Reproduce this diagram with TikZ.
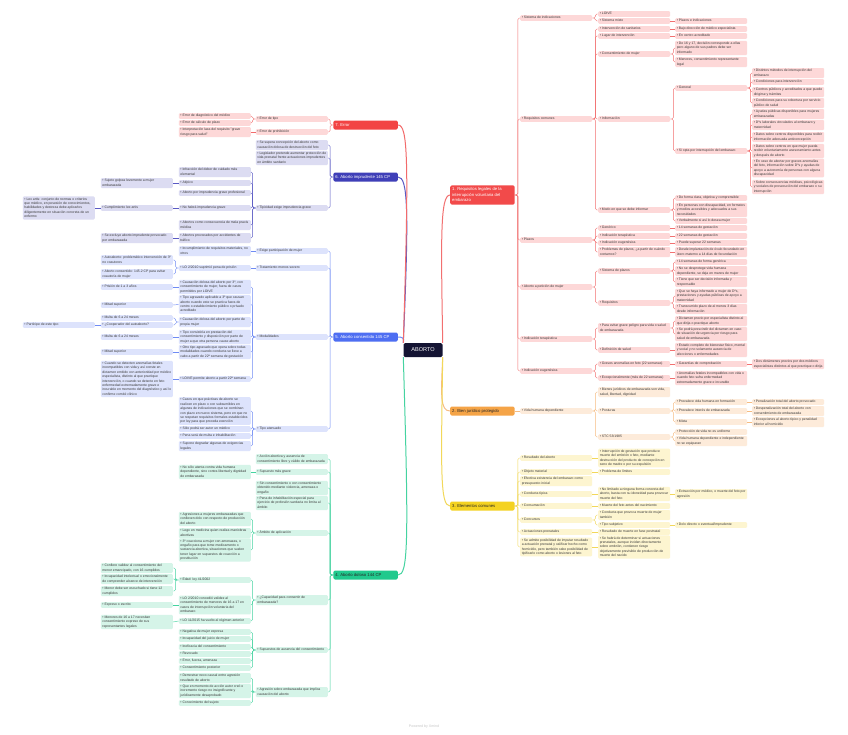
\documentclass[tikz,border=0pt]{standalone}
\usepackage{fontspec}
\setmainfont{Liberation Sans}

\definecolor{centre}{HTML}{141433}
\definecolor{rqmain}{HTML}{F24A4A}
\definecolor{rqsoft}{HTML}{FDD8D8}
\definecolor{rqline}{HTML}{F27070}
\definecolor{bjmain}{HTML}{F5A447}
\definecolor{bjsoft}{HTML}{FDEBDA}
\definecolor{bjline}{HTML}{F6BC82}
\definecolor{ecmain}{HTML}{F4D221}
\definecolor{ecsoft}{HTML}{FDF5D0}
\definecolor{ecline}{HTML}{F2D85A}
\definecolor{admain}{HTML}{21C98D}
\definecolor{adsoft}{HTML}{D5F4E8}
\definecolor{adline}{HTML}{45D3A0}
\definecolor{acmain}{HTML}{4E6EF2}
\definecolor{acsoft}{HTML}{DDE3FC}
\definecolor{acline}{HTML}{6F8BF4}
\definecolor{aimain}{HTML}{3F3FB8}
\definecolor{aisoft}{HTML}{DCDCF2}
\definecolor{ailine}{HTML}{5A5AC4}
\definecolor{ermain}{HTML}{F24444}
\definecolor{ersoft}{HTML}{FDD8D8}
\definecolor{erline}{HTML}{F26B6B}

\tikzset{
  sub/.style={fill=#1, rounded corners=1.2pt, inner xsep=1.6pt, inner ysep=0.6pt,
    text width=68.8pt, align=flush left, text=black!78,
    font=\fontsize{3.4}{4.4}\selectfont,
    execute at begin node=\strut, execute at end node=\strut},
  rbox/.style={sub=#1, anchor=west},
  lbox/.style={sub=#1, anchor=east},
  topic/.style={fill=#1, rounded corners=1.5pt, inner xsep=2pt, inner ysep=1.9pt,
    text width=60.5pt, align=flush left, font=\fontsize{4.2}{5.2}\selectfont,
    execute at begin node=\strut, execute at end node=\strut},
  link/.style={draw=#1, line width=0.45pt, rounded corners=1.5pt},
  trunk/.style={draw=#1, line width=1pt},
}

\begin{document}
\begin{tikzpicture}[x=1pt,y=-1pt]
\fill[white] (0,0) rectangle (848,734);
\useasboundingbox (0,0) rectangle (848,734);

% centre
\node[fill=centre, text=white, rounded corners=1.5pt, minimum width=39pt, minimum height=14pt,
  font=\fontsize{5.6}{6}\selectfont] (aborto) at (423,350) {ABORTO};

% main topics
\node[topic=rqmain, text=white, anchor=west] (rq) at (450,195) {1. Requisitos legales de la interrupción voluntaria del embarazo};
\node[topic=bjmain, text=black!85, anchor=west] (bj) at (450,411) {2. Bien jurídico protegido};
\node[topic=ecmain, text=black!85, anchor=west] (ec) at (450,506) {3. Elementos comunes};
\node[topic=admain, text=black!85, anchor=east] (ad) at (398,575) {4. Aborto doloso 144 CP};
\node[topic=acmain, text=white, anchor=east] (ac) at (398,337) {5. Aborto consentido 145 CP};
\node[topic=aimain, text=white, anchor=east] (ai) at (398,177) {6. Aborto imprudente 145 CP};
\node[topic=ermain, text=white, anchor=east] (er) at (398,125) {7. Error};

\draw[trunk=rqline] (aborto.north east) .. controls (441,240) and (440,195) .. (rq.west);
\draw[trunk=bjline] (aborto.south east) .. controls (441,395) and (440,411) .. (bj.west);
\draw[trunk=ecline] (aborto.south east) .. controls (441,470) and (440,506) .. (ec.west);
\draw[trunk=adline] (aborto.south west) .. controls (409,545) and (408,575) .. (ad.east);
\draw[trunk=acline] (aborto.north west) .. controls (405,338) and (402,337) .. (ac.east);
\draw[trunk=ailine] (aborto.north west) .. controls (409,210) and (408,177) .. (ai.east);
\draw[trunk=erline] (aborto.north west) .. controls (409,160) and (408,125) .. (er.east);

% 1. requisitos legales
\node[rbox=rqsoft] (rqa) at (520,18) {• Sistema de indicaciones};
\node[rbox=rqsoft] (rqb) at (520,119) {• Requisitos comunes};
\node[rbox=rqsoft] (rqc) at (520,240) {• Plazos};
\node[rbox=rqsoft] (rqd) at (520,287) {• Aborto a petición de mujer};
\node[rbox=rqsoft] (rqe) at (520,339) {• Indicación terapéutica};
\node[rbox=rqsoft] (rqf) at (520,371) {• Indicación eugenésica};
\foreach \n in {rqa,rqb,rqc,rqd,rqe,rqf} \draw[link=rqline] (rq.east) -- ++(3,0) |- (\n.west);

\node[rbox=rqsoft] (rqa1) at (598,14) {• LOIVE};
\node[rbox=rqsoft] (rqa2) at (598,21) {• Sistema mixto};
\node[rbox=rqsoft] (rqa2a) at (675,21) {• Plazos e indicaciones};
\foreach \n in {rqa1,rqa2} \draw[link=rqline] (rqa.east) -- ++(3,0) |- (\n.west);
\draw[link=rqline] (rqa2) -- (rqa2a);

\node[rbox=rqsoft] (rqb1) at (598,29) {• Intervención de sanitarios};
\node[rbox=rqsoft] (rqb1a) at (675,29) {• Bajo dirección de médico especialista};
\node[rbox=rqsoft] (rqb2) at (598,36) {• Lugar de intervención};
\node[rbox=rqsoft] (rqb2a) at (675,36) {• En centro acreditado};
\node[rbox=rqsoft] (rqb3) at (598,54) {• Consentimiento de mujer};
\node[rbox=rqsoft] (rqb3a) at (675,48) {• De 16 y 17, decisión corresponde a ellas pero alguno de sus padres debe ser informado};
\node[rbox=rqsoft] (rqb3b) at (675,62) {• Menores, consentimiento representante legal};
\node[rbox=rqsoft] (rqb4) at (598,119) {• Información};
\node[rbox=rqsoft] (rqb4a) at (675,88) {• General};
\node[rbox=rqsoft] (rqb4a1) at (752,73) {• Distintos métodos de interrupción del embarazo};
\node[rbox=rqsoft] (rqb4a2) at (752,82) {• Condiciones para intervención};
\node[rbox=rqsoft] (rqb4a3) at (752,92) {• Centros públicos y acreditados a que puede dirigirse y trámites};
\node[rbox=rqsoft] (rqb4a4) at (752,103) {• Condiciones para su cobertura por servicio público de salud};
\node[rbox=rqsoft] (rqb4b) at (675,151) {• Si opta por interrupción del embarazo};
\node[rbox=rqsoft] (rqb4b1) at (752,114) {• Ayudas públicas disponibles para mujeres embarazadas};
\node[rbox=rqsoft] (rqb4b2) at (752,125) {• Dºs laborales vinculados al embarazo y maternidad};
\node[rbox=rqsoft] (rqb4b3) at (752,137) {• Datos sobre centros disponibles para recibir información adecuada anticoncepción};
\node[rbox=rqsoft] (rqb4b4) at (752,151) {• Datos sobre centros en que mujer pueda recibir voluntariamente asesoramiento antes y después de aborto};
\node[rbox=rqsoft] (rqb4b5) at (752,168) {• En caso de abortar por graves anomalías del feto, información sobre Dºs y ayudas de apoyo a autonomía de personas con alguna discapacidad};
\node[rbox=rqsoft] (rqb4b6) at (752,187) {• Sobre consecuencias médicas, psicológicas y sociales de prosecución del embarazo o su interrupción};
\node[rbox=rqsoft] (rqb5) at (598,210) {• Modo en que se debe informar};
\node[rbox=rqsoft] (rqb5a) at (675,198) {• De forma clara, objetiva y comprensible};
\node[rbox=rqsoft] (rqb5b) at (675,210) {• En personas con discapacidad, en formatos y medios accesibles y adecuados a sus necesidades};
\node[rbox=rqsoft] (rqb5c) at (675,221) {• Verbalmente si así lo desea mujer};
\foreach \n in {rqb1,rqb2,rqb3,rqb4,rqb5} \draw[link=rqline] (rqb.east) -- ++(3,0) |- (\n.west);
\draw[link=rqline] (rqb1) -- (rqb1a);
\draw[link=rqline] (rqb2) -- (rqb2a);
\foreach \n in {rqb3a,rqb3b} \draw[link=rqline] (rqb3.east) -- ++(3,0) |- (\n.west);
\foreach \n in {rqb4a,rqb4b} \draw[link=rqline] (rqb4.east) -- ++(3,0) |- (\n.west);
\foreach \n in {rqb4a1,rqb4a2,rqb4a3,rqb4a4} \draw[link=rqline] (rqb4a.east) -- ++(3,0) |- (\n.west);
\foreach \n in {rqb4b1,rqb4b2,rqb4b3,rqb4b4,rqb4b5,rqb4b6} \draw[link=rqline] (rqb4b.east) -- ++(3,0) |- (\n.west);
\foreach \n in {rqb5a,rqb5b,rqb5c} \draw[link=rqline] (rqb5.east) -- ++(3,0) |- (\n.west);

\node[rbox=rqsoft] (rqc1) at (598,228) {• Genérico};
\node[rbox=rqsoft] (rqc1a) at (675,228) {• 14 semanas de gestación};
\node[rbox=rqsoft] (rqc2) at (598,236) {• Indicación terapéutica};
\node[rbox=rqsoft] (rqc2a) at (675,236) {• 22 semanas de gestación};
\node[rbox=rqsoft] (rqc3) at (598,243) {• Indicación eugenésica};
\node[rbox=rqsoft] (rqc3a) at (675,243) {• Puede superar 22 semanas};
\node[rbox=rqsoft] (rqc4) at (598,252) {• Problemas de plazos, ¿a partir de cuándo contamos?};
\node[rbox=rqsoft] (rqc4a) at (675,252) {• Desde implantación de óvulo fecundado en útero materno a 14 días de fecundación};
\foreach \n in {rqc1,rqc2,rqc3,rqc4} \draw[link=rqline] (rqc.east) -- ++(3,0) |- (\n.west);
\foreach \n in {1,2,3,4} \draw[link=rqline] (rqc\n) -- (rqc\n a);

\node[rbox=rqsoft] (rqd1) at (598,271) {• Sistema de plazos};
\node[rbox=rqsoft] (rqd1a) at (675,262) {• 14 semanas de forma genérica};
\node[rbox=rqsoft] (rqd1b) at (675,271) {• No se desprotege vida humana dependiente, se deja en manos de mujer};
\node[rbox=rqsoft] (rqd1c) at (675,282) {• Tiene que ser decisión informada y responsable};
\node[rbox=rqsoft] (rqd2) at (598,303) {• Requisitos};
\node[rbox=rqsoft] (rqd2a) at (675,296) {• Que se haya informado a mujer de Dºs, prestaciones y ayudas públicas de apoyo a maternidad};
\node[rbox=rqsoft] (rqd2b) at (675,309) {• Transcurrido plazo de al menos 3 días desde información};
\foreach \n in {rqd1,rqd2} \draw[link=rqline] (rqd.east) -- ++(3,0) |- (\n.west);
\foreach \n in {rqd1a,rqd1b,rqd1c} \draw[link=rqline] (rqd1.east) -- ++(3,0) |- (\n.west);
\foreach \n in {rqd2a,rqd2b} \draw[link=rqline] (rqd2.east) -- ++(3,0) |- (\n.west);

\node[rbox=rqsoft] (rqe1) at (598,328) {• Para evitar grave peligro para vida o salud de embarazada};
\node[rbox=rqsoft] (rqe1a) at (675,321) {• Dictamen previo por especialista distinto al que dirija o practique aborto};
\node[rbox=rqsoft] (rqe1b) at (675,334) {• Se podrá prescindir del dictamen en caso de situación de urgencia por riesgo para salud de embarazada};
\node[rbox=rqsoft] (rqe2) at (598,350) {• Definición de salud};
\node[rbox=rqsoft] (rqe2a) at (675,350) {• Estado completo de bienestar físico, mental y social y no solamente ausencia de afecciones o enfermedades};
\foreach \n in {rqe1,rqe2} \draw[link=rqline] (rqe.east) -- ++(3,0) |- (\n.west);
\foreach \n in {rqe1a,rqe1b} \draw[link=rqline] (rqe1.east) -- ++(3,0) |- (\n.west);
\draw[link=rqline] (rqe2) -- (rqe2a);

\node[rbox=rqsoft] (rqf1) at (598,364) {• Graves anomalías en feto (22 semanas)};
\node[rbox=rqsoft] (rqf1a) at (675,364) {• Garantías de comprobación};
\node[rbox=rqsoft] (rqf1b) at (752,364) {• Dos dictámenes previos por dos médicos especialistas distintos al que practique o dirija};
\node[rbox=rqsoft] (rqf2) at (598,378) {• Excepcionalmente (más de 22 semanas)};
\node[rbox=rqsoft] (rqf2a) at (675,378) {• Anomalías fetales incompatibles con vida o cuando feto sufra enfermedad extremadamente grave e incurable};
\foreach \n in {rqf1,rqf2} \draw[link=rqline] (rqf.east) -- ++(3,0) |- (\n.west);
\draw[link=rqline] (rqf1) -- (rqf1a);
\draw[link=rqline] (rqf1a) -- (rqf1b);
\draw[link=rqline] (rqf2) -- (rqf2a);

% 2. bien juridico
\node[rbox=bjsoft] (bj1) at (520,411) {• Vida humana dependiente};
\node[rbox=bjsoft] (bj1a) at (598,392) {• Bienes jurídicos de embarazada son vida, salud, libertad, dignidad};
\node[rbox=bjsoft] (bj1b) at (598,411) {• Posturas};
\node[rbox=bjsoft] (bj1b1) at (675,402) {• Prevalece vida humana en formación};
\node[rbox=bjsoft] (bj1b1a) at (752,402) {• Penalización total del aborto provocado};
\node[rbox=bjsoft] (bj1b2) at (675,411) {• Prevalece interés de embarazada};
\node[rbox=bjsoft] (bj1b2a) at (752,411) {• Despenalización total del aborto con consentimiento de embarazada};
\node[rbox=bjsoft] (bj1b3) at (675,422) {• Mixta};
\node[rbox=bjsoft] (bj1b3a) at (752,422) {• Excepciones al aborto típico y penalidad inferior al homicidio};
\node[rbox=bjsoft] (bj1c) at (598,437) {• STC 53/1985};
\node[rbox=bjsoft] (bj1c1) at (675,432) {• Protección de vida no es uniforme};
\node[rbox=bjsoft] (bj1c2) at (675,441) {• Vida humana dependiente e independiente no se equiparan};
\draw[link=bjline] (bj) -- (bj1);
\foreach \n in {bj1a,bj1b,bj1c} \draw[link=bjline] (bj1.east) -- ++(3,0) |- (\n.west);
\foreach \n in {bj1b1,bj1b2,bj1b3} \draw[link=bjline] (bj1b.east) -- ++(3,0) |- (\n.west);
\foreach \n in {1,2,3} \draw[link=bjline] (bj1b\n) -- (bj1b\n a);
\foreach \n in {bj1c1,bj1c2} \draw[link=bjline] (bj1c.east) -- ++(3,0) |- (\n.west);

% 3. elementos comunes
\node[rbox=ecsoft] (ec1) at (520,458) {• Resultado del aborto};
\node[rbox=ecsoft] (ec1a) at (598,458) {• Interrupción de gestación que produce muerte del embrión o feto, mediante destrucción del producto de concepción en seno de madre o por su expulsión};
\node[rbox=ecsoft] (ec2) at (520,472) {• Objeto material};
\node[rbox=ecsoft] (ec2a) at (598,472) {• Problema de límites};
\node[rbox=ecsoft] (ec3) at (520,481) {• Efectiva existencia del embarazo como presupuesto inicial};
\node[rbox=ecsoft] (ec4) at (520,494) {• Conducta típica};
\node[rbox=ecsoft] (ec4a) at (598,494) {• No limitado a ninguna forma concreta del aborto, basta con su idoneidad para provocar muerte del feto};
\node[rbox=ecsoft] (ec4b) at (675,494) {• Extracción por médico, o muerte del feto por agresión};
\node[rbox=ecsoft] (ec5) at (520,506) {• Consumación};
\node[rbox=ecsoft] (ec5a) at (598,506) {• Muerte del feto antes del nacimiento};
\node[rbox=ecsoft] (ec6) at (520,520) {• Concursos};
\node[rbox=ecsoft] (ec6a) at (598,515) {• Conducta que provoca muerte de mujer también};
\node[rbox=ecsoft] (ec6b) at (598,525) {• Tipo subjetivo};
\node[rbox=ecsoft] (ec6c) at (675,525) {• Dolo directo o eventual/imprudente};
\node[rbox=ecsoft] (ec7) at (520,532) {• Actuaciones prenatales};
\node[rbox=ecsoft] (ec7a) at (598,532) {• Resultado de muerte en fase postnatal};
\node[rbox=ecsoft] (ec8) at (520,547) {• Se admite posibilidad de imputar resultado a actuación prenatal y calificar hecho como homicidio, pero también cabe posibilidad de tipificarlo como aborto o lesiones al feto};
\node[rbox=ecsoft] (ec8a) at (598,547) {• Se habrá de determinar si actuaciones prenatales, aunque inciden directamente sobre embrión, contienen riesgo objetivamente previsible de producción de muerte del nacido};
\foreach \n in {ec1,ec2,ec3,ec4,ec5,ec6,ec7,ec8} \draw[link=ecline] (ec.east) -- ++(3,0) |- (\n.west);
\foreach \n in {1,2,4,5,7,8} \draw[link=ecline] (ec\n) -- (ec\n a);
\draw[link=ecline] (ec4a) -- (ec4b);
\foreach \n in {ec6a,ec6b} \draw[link=ecline] (ec6.east) -- ++(3,0) |- (\n.west);
\draw[link=ecline] (ec6b) -- (ec6c);

% 7. error
\node[lbox=ersoft] (er1) at (328,119) {• Error de tipo};
\node[lbox=ersoft] (er1a) at (251,116) {• Error de diagnóstico del médico};
\node[lbox=ersoft] (er1b) at (251,123) {• Error de cálculo de plazo};
\node[lbox=ersoft] (er2) at (328,132) {• Error de prohibición};
\node[lbox=ersoft] (er2a) at (251,132) {• Interpretación laxa del requisito "grave riesgo para salud"};
\foreach \n in {er1,er2} \draw[link=erline] (er.west) -- ++(-3,0) |- (\n.east);
\foreach \n in {er1a,er1b} \draw[link=erline] (er1.west) -- ++(-3,0) |- (\n.east);
\draw[link=erline] (er2) -- (er2a);

% 6. aborto imprudente
\node[lbox=aisoft] (ai1) at (328,145) {• Se supera concepción del aborto como causación dolosa de destrucción del feto};
\node[lbox=aisoft] (ai2) at (328,158) {• Legislador pretende aumentar protección de vida prenatal frente actuaciones imprudentes en ámbito sanitario};
\node[lbox=aisoft] (ai3) at (328,208) {• Tipicidad exige imprudencia grave};
\node[lbox=aisoft] (ai3a) at (251,172) {• Infracción del deber de cuidado más elemental};
\node[lbox=aisoft] (ai3b) at (251,183) {• Atípico};
\node[lbox=aisoft] (ai3b1) at (173,183) {• Sujeto golpea levemente a mujer embarazada};
\node[lbox=aisoft] (ai3c) at (251,193) {• Aborto por imprudencia grave profesional};
\node[lbox=aisoft] (ai3d) at (251,208) {• No habrá imprudencia grave};
\node[lbox=aisoft] (ai3d1) at (173,208) {• Cumplimiento lex artis};
\node[lbox=aisoft] (ai3d2) at (95,208) {• Lex artis: conjunto de normas o criterios que médico, en posesión de conocimientos, habilidades y destreza debe aplicarlos diligentemente en situación concreta de un enfermo};
\node[lbox=aisoft] (ai3e) at (251,225) {• Abortos como consecuencia de mala praxis médica};
\node[lbox=aisoft] (ai3f) at (251,238) {• Abortos provocados por accidentes de tráfico};
\node[lbox=aisoft] (ai3f1) at (173,238) {• Se excluye aborto imprudente provocado por embarazada};
\foreach \n in {ai1,ai2,ai3} \draw[link=ailine] (ai.west) -- ++(-3,0) |- (\n.east);
\foreach \n in {ai3a,ai3b,ai3c,ai3d,ai3e,ai3f} \draw[link=ailine] (ai3.west) -- ++(-3,0) |- (\n.east);
\draw[link=ailine] (ai3b) -- (ai3b1);
\draw[link=ailine] (ai3d) -- (ai3d1);
\draw[link=ailine] (ai3d1) -- (ai3d2);
\draw[link=ailine] (ai3f) -- (ai3f1);

% 5. aborto consentido
\node[lbox=acsoft] (ac1) at (328,251) {• Exige participación de mujer};
\node[lbox=acsoft] (ac1a) at (251,251) {• Incumplimiento de requisitos materiales, no otros};
\node[lbox=acsoft] (ac2) at (328,268) {• Tratamiento menos severo};
\node[lbox=acsoft] (ac2a) at (251,268) {• LO 2/2010 suprimió pena de prisión};
\node[lbox=acsoft] (ac2a1) at (173,260) {• Autoaborto: problemático intervención de 3º no coautores};
\node[lbox=acsoft] (ac2a2) at (173,274) {• Aborto consentido: 145.2 CP para evitar coautoría de mujer};
\node[lbox=acsoft] (ac3) at (328,337) {• Modalidades};
\node[lbox=acsoft] (ac3a) at (251,287) {• Causación dolosa del aborto por 3º, con consentimiento de mujer, fuera de casos permitidos por LOIVE};
\node[lbox=acsoft] (ac3a1) at (173,287) {• Prisión de 1 a 3 años};
\node[lbox=acsoft] (ac3b) at (251,304.5) {• Tipo agravado aplicable a 3º que causan aborto cuando este se practica fuera de centro o establecimiento público o privado acreditado};
\node[lbox=acsoft] (ac3b1) at (173,305) {• Mitad superior};
\node[lbox=acsoft] (ac3c) at (251,322) {• Causación dolosa del aborto por parte de propia mujer};
\node[lbox=acsoft] (ac3c1) at (173,318) {• Multa de 6 a 24 meses};
\node[lbox=acsoft] (ac3c2) at (173,325) {• ¿Cooperador del autoaborto?};
\node[lbox=acsoft] (ac3c3) at (95,325) {• Partícipe de este tipo};
\node[lbox=acsoft] (ac3d) at (251,337) {• Tipo consistiría en prestación del consentimiento y disposición por parte de mujer a que otra persona cause aborto};
\node[lbox=acsoft] (ac3d1) at (173,337) {• Multa de 6 a 24 meses};
\node[lbox=acsoft] (ac3e) at (251,352) {• Otro tipo agravado que opera sobre todas modalidades cuando conducta se lleve a cabo a partir de 22ª semana de gestación};
\node[lbox=acsoft] (ac3e1) at (173,352) {• Mitad superior};
\node[lbox=acsoft] (ac3f) at (251,379) {• LOIVE permite aborto a partir 22ª semana};
\node[lbox=acsoft] (ac3f1) at (173,379) {• Cuando se detecten anomalías fetales incompatibles con vida y así conste en dictamen emitido con anterioridad por médico especialista, distinto al que practique intervención, o cuando se detecte en feto enfermedad extremadamente grave e incurable en momento del diagnóstico y así lo confirme comité clínico};
\node[lbox=acsoft] (ac4) at (328,429) {• Tipo atenuado};
\node[lbox=acsoft] (ac4a) at (251,411) {• Casos en que prácticas de aborto se realicen en plazo o con subsumibles en algunas de indicaciones que se combinan con plazo en nuevo sistema, pero en que no se respetan requisitos formales establecidos por ley para que proceda exención};
\node[lbox=acsoft] (ac4b) at (251,429) {• Sólo podrá ser autor un médico};
\node[lbox=acsoft] (ac4c) at (251,436) {• Pena será de multa e inhabilitación};
\node[lbox=acsoft] (ac4d) at (251,446) {• Supone degradar algunas de exigencias legales};
\foreach \n in {ac1,ac2,ac3,ac4} \draw[link=acline] (ac.west) -- ++(-3,0) |- (\n.east);
\draw[link=acline] (ac1) -- (ac1a);
\draw[link=acline] (ac2) -- (ac2a);
\foreach \n in {ac2a1,ac2a2} \draw[link=acline] (ac2a.west) -- ++(-3,0) |- (\n.east);
\foreach \n in {ac3a,ac3b,ac3c,ac3d,ac3e,ac3f} \draw[link=acline] (ac3.west) -- ++(-3,0) |- (\n.east);
\draw[link=acline] (ac3a) -- (ac3a1);
\draw[link=acline] (ac3b.west) -- (ac3b1.east);
\foreach \n in {ac3c1,ac3c2} \draw[link=acline] (ac3c.west) -- ++(-3,0) |- (\n.east);
\draw[link=acline] (ac3c2) -- (ac3c3);
\draw[link=acline] (ac3d) -- (ac3d1);
\draw[link=acline] (ac3e) -- (ac3e1);
\draw[link=acline] (ac3f) -- (ac3f1);
\foreach \n in {ac4a,ac4b,ac4c,ac4d} \draw[link=acline] (ac4.west) -- ++(-3,0) |- (\n.east);

% 4. aborto doloso
\node[lbox=adsoft] (ad1) at (328,459) {• Acción abortiva y ausencia de consentimiento libre y válido de embarazada};
\node[lbox=adsoft] (ad2) at (328,472) {• Supuesto más grave};
\node[lbox=adsoft] (ad2a) at (251,472) {• No sólo atenta contra vida humana dependiente, sino contra libertad y dignidad de embarazada};
\node[lbox=adsoft] (ad3) at (328,488) {• Sin consentimiento o con consentimiento obtenido mediante violencia, amenaza o engaño};
\node[lbox=adsoft] (ad4) at (328,503) {• Pena de inhabilitación especial para ejercicio de profesión sanitaria no limita al ámbito};
\node[lbox=adsoft] (ad5) at (328,533) {• Ámbito de aplicación};
\node[lbox=adsoft] (ad5a) at (251,519) {• Agresiones a mujeres embarazadas que conlleven dolo con respecto de producción del aborto};
\node[lbox=adsoft] (ad5b) at (251,533) {• Lego en medicina quien realiza maniobras abortivas};
\node[lbox=adsoft] (ad5c) at (251,550) {• 3º coacciona a mujer con amenazas, o engaño para que tome medicamento o sustancia abortiva, situaciones que suelen tener lugar en supuestos de coacción a prostitución};
\node[lbox=adsoft] (ad6) at (328,600) {• ¿Capacidad para consentir de embarazada?};
\node[lbox=adsoft] (ad6a) at (251,580) {• Edad: ley 41/2002};
\node[lbox=adsoft] (ad6a1) at (173,568) {• Confiere validez al consentimiento del menor emancipado, con 16 cumplidos};
\node[lbox=adsoft] (ad6a2) at (173,579) {• Incapacidad intelectual o emocionalmente de comprender alcance de intervención};
\node[lbox=adsoft] (ad6a3) at (173,591) {• Menor debe ser escuchado si tiene 12 cumplidos};
\node[lbox=adsoft] (ad6b) at (251,605) {• LO 2/2010 concedió validez al consentimiento de menores de 16 a 17 en casos de interrupción voluntaria del embarazo};
\node[lbox=adsoft] (ad6b1) at (173,605) {• Expreso o escrito};
\node[lbox=adsoft] (ad6c) at (251,621) {• LO 11/2015 ha vuelto al régimen anterior};
\node[lbox=adsoft] (ad6c1) at (173,622) {• Menores de 16 a 17 necesitan consentimiento expreso de sus representantes legales};
\node[lbox=adsoft] (ad7) at (328,650) {• Supuestos de ausencia del consentimiento};
\node[lbox=adsoft] (ad7a) at (251,632) {• Negativa de mujer expresa};
\node[lbox=adsoft] (ad7b) at (251,639) {• Incapacidad del juicio de mujer};
\node[lbox=adsoft] (ad7c) at (251,647) {• Ineficacia del consentimiento};
\node[lbox=adsoft] (ad7d) at (251,654) {• Revocado};
\node[lbox=adsoft] (ad7e) at (251,661) {• Error, fuerza, amenaza};
\node[lbox=adsoft] (ad7f) at (251,668) {• Consentimiento posterior};
\node[lbox=adsoft] (ad8) at (328,692) {• Agresión sobre embarazada que implica causación del aborto};
\node[lbox=adsoft] (ad8a) at (251,678) {• Demostrar nexo causal entre agresión resultado de aborto};
\node[lbox=adsoft] (ad8b) at (251,691) {• Que en momento de acción autor creó o incremento riesgo no insignificante y jurídicamente desaprobado};
\node[lbox=adsoft] (ad8c) at (251,703) {• Conocimiento del sujeto};
\foreach \n in {ad1,ad2,ad3,ad4,ad5,ad6,ad7,ad8} \draw[link=adline] (ad.west) -- ++(-3,0) |- (\n.east);
\draw[link=adline] (ad2) -- (ad2a);
\foreach \n in {ad5a,ad5b,ad5c} \draw[link=adline] (ad5.west) -- ++(-3,0) |- (\n.east);
\foreach \n in {ad6a,ad6b,ad6c} \draw[link=adline] (ad6.west) -- ++(-3,0) |- (\n.east);
\foreach \n in {ad6a1,ad6a2,ad6a3} \draw[link=adline] (ad6a.west) -- ++(-3,0) |- (\n.east);
\draw[link=adline] (ad6b) -- (ad6b1);
\draw[link=adline] (ad6c.west) -- (ad6c1.east);
\foreach \n in {ad7a,ad7b,ad7c,ad7d,ad7e,ad7f} \draw[link=adline] (ad7.west) -- ++(-3,0) |- (\n.east);
\foreach \n in {ad8a,ad8b,ad8c} \draw[link=adline] (ad8.west) -- ++(-3,0) |- (\n.east);

% footer
\node[font=\fontsize{3.6}{4}\selectfont, text=black!22] (credit) at (424,727) {Powered by Xmind};
\end{tikzpicture}
\end{document}
